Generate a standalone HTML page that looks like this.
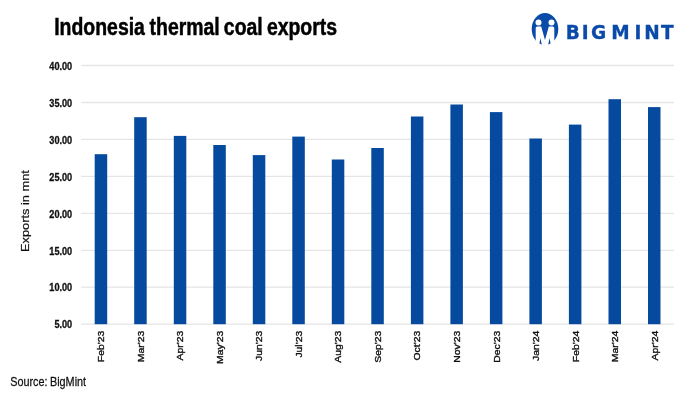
<!DOCTYPE html>
<html><head><meta charset="utf-8"><title>Indonesia thermal coal exports</title>
<style>
html,body{margin:0;padding:0;background:#fff;}
body{width:697px;height:401px;overflow:hidden;font-family:"Liberation Sans",sans-serif;}
svg{display:block}
text{font-family:"Liberation Sans",sans-serif}
.g{stroke:#e5e5e5;stroke-width:1.3}
.yl{font-weight:bold;font-size:10px;fill:#111;stroke:#111;stroke-width:0.3;text-anchor:end}
.xl{font-size:9px;fill:#111;stroke:#111;stroke-width:0.35;text-anchor:end}
.b{fill:#064a9f}
</style></head><body>
<svg width="697" height="401" viewBox="0 0 697 401">
<rect width="697" height="401" fill="#fff"/>
<text transform="translate(53.9,35.4) scale(0.817,1)" font-weight="bold" font-size="23.8" fill="#000" stroke="#000" stroke-width="0.5"><tspan x="0.4">Indonesia</tspan> <tspan x="117.1">thermal</tspan> <tspan x="208.0">coal</tspan> <tspan x="260.7">exports</tspan></text>
<line class="g" x1="81.2" x2="674.0" y1="324.2" y2="324.2"/>
<text class="yl" transform="translate(72.2,328.4) scale(0.915,1)">5.00</text>
<line class="g" x1="81.2" x2="674.0" y1="287.2" y2="287.2"/>
<text class="yl" transform="translate(72.2,291.4) scale(0.915,1)">10.00</text>
<line class="g" x1="81.2" x2="674.0" y1="250.3" y2="250.3"/>
<text class="yl" transform="translate(72.2,254.5) scale(0.915,1)">15.00</text>
<line class="g" x1="81.2" x2="674.0" y1="213.3" y2="213.3"/>
<text class="yl" transform="translate(72.2,217.5) scale(0.915,1)">20.00</text>
<line class="g" x1="81.2" x2="674.0" y1="176.4" y2="176.4"/>
<text class="yl" transform="translate(72.2,180.6) scale(0.915,1)">25.00</text>
<line class="g" x1="81.2" x2="674.0" y1="139.4" y2="139.4"/>
<text class="yl" transform="translate(72.2,143.6) scale(0.915,1)">30.00</text>
<line class="g" x1="81.2" x2="674.0" y1="102.5" y2="102.5"/>
<text class="yl" transform="translate(72.2,106.7) scale(0.915,1)">35.00</text>
<line class="g" x1="81.2" x2="674.0" y1="65.5" y2="65.5"/>
<text class="yl" transform="translate(72.2,69.7) scale(0.915,1)">40.00</text>
<rect class="b" x="94.7" y="154.2" width="12.5" height="170.0"/>
<text class="xl" transform="translate(104.3,330.8) rotate(-90) scale(1.153,1)">Feb'23</text>
<rect class="b" x="134.2" y="117.2" width="12.5" height="207.0"/>
<text class="xl" transform="translate(143.8,330.8) rotate(-90) scale(1.153,1)">Mar'23</text>
<rect class="b" x="173.8" y="135.9" width="12.5" height="188.3"/>
<text class="xl" transform="translate(183.3,330.8) rotate(-90) scale(1.153,1)">Apr'23</text>
<rect class="b" x="213.3" y="145.0" width="12.5" height="179.2"/>
<text class="xl" transform="translate(222.8,330.8) rotate(-90) scale(1.153,1)">May'23</text>
<rect class="b" x="252.8" y="155.1" width="12.5" height="169.1"/>
<text class="xl" transform="translate(262.3,330.8) rotate(-90) scale(1.153,1)">Jun'23</text>
<rect class="b" x="292.3" y="136.6" width="12.5" height="187.6"/>
<text class="xl" transform="translate(301.9,330.8) rotate(-90) scale(1.153,1)">Jul'23</text>
<rect class="b" x="331.8" y="159.5" width="12.5" height="164.7"/>
<text class="xl" transform="translate(341.4,330.8) rotate(-90) scale(1.153,1)">Aug'23</text>
<rect class="b" x="371.3" y="148.0" width="12.5" height="176.2"/>
<text class="xl" transform="translate(380.9,330.8) rotate(-90) scale(1.153,1)">Sep'23</text>
<rect class="b" x="410.9" y="116.5" width="12.5" height="207.7"/>
<text class="xl" transform="translate(420.4,330.8) rotate(-90) scale(1.153,1)">Oct'23</text>
<rect class="b" x="450.4" y="104.5" width="12.5" height="219.7"/>
<text class="xl" transform="translate(459.9,330.8) rotate(-90) scale(1.153,1)">Nov'23</text>
<rect class="b" x="489.9" y="112.1" width="12.5" height="212.1"/>
<text class="xl" transform="translate(499.5,330.8) rotate(-90) scale(1.153,1)">Dec'23</text>
<rect class="b" x="529.4" y="138.5" width="12.5" height="185.7"/>
<text class="xl" transform="translate(539.0,330.8) rotate(-90) scale(1.153,1)">Jan'24</text>
<rect class="b" x="568.9" y="124.6" width="12.5" height="199.6"/>
<text class="xl" transform="translate(578.5,330.8) rotate(-90) scale(1.153,1)">Feb'24</text>
<rect class="b" x="608.5" y="99.2" width="12.5" height="225.0"/>
<text class="xl" transform="translate(618.0,330.8) rotate(-90) scale(1.153,1)">Mar'24</text>
<rect class="b" x="648.0" y="107.1" width="12.5" height="217.1"/>
<text class="xl" transform="translate(657.5,330.8) rotate(-90) scale(1.153,1)">Apr'24</text>
<text transform="translate(28.5,252.0) rotate(-90) scale(1.27,1)" font-size="10.1" fill="#111" stroke="#111" stroke-width="0.2">Exports in mnt</text>
<text transform="translate(10.2,385.5) scale(0.822,1)" font-size="13.2" word-spacing="-0.8" fill="#111" stroke="#111" stroke-width="0.25">Source: BigMint</text>
<g id="logo">
<clipPath id="ec"><ellipse cx="545" cy="29" rx="13.3" ry="16"/></clipPath>
<ellipse cx="545" cy="29" rx="13.3" ry="16" fill="#0a4aa8"/>
<circle cx="538.5" cy="22.4" r="3" fill="#fff"/>
<circle cx="551.5" cy="22.4" r="3" fill="#fff"/>
<path d="M535.7 28 Q535.7 26.5 537.2 26.5 L541.2 26.5 L545 40 L548.8 26.5 L552.8 26.5 Q554.3 26.5 554.3 28 L554.3 47 L535.7 47 Z" fill="#fff"/>
<path clip-path="url(#ec)" d="M540.5 38 L542 46 L538.9 46 Z M549.5 38 L551.1 46 L548 46 Z" fill="#0a4aa8"/>
<text transform="translate(0,38.9) scale(0.95,1)" x="595.4 612.5 622.2 643.5 668 678.2 695.8" font-family="DejaVu Sans, sans-serif" style="font-family:'DejaVu Sans',sans-serif" font-weight="bold" font-size="19.5" fill="#0a4aa8" stroke="#0a4aa8" stroke-width="0.3">BIGMINT</text>
</g>
</svg></body></html>
